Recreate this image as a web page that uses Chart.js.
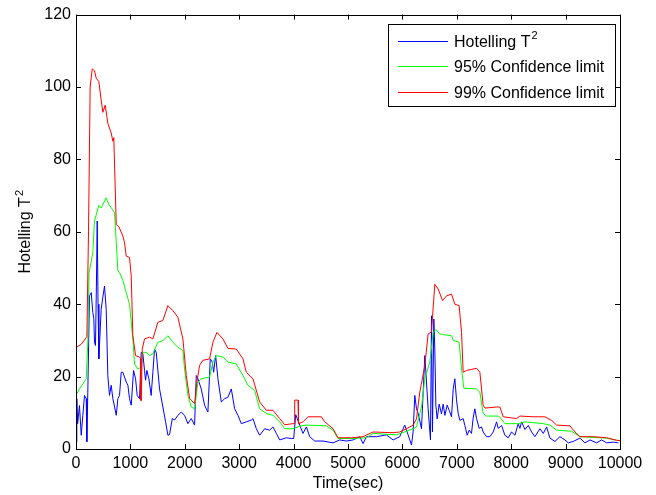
<!DOCTYPE html>
<html>
<head>
<meta charset="utf-8">
<script src="https://cdn.jsdelivr.net/npm/chart.js@4"></script>
<style>
  html, body { margin: 0; padding: 0; background: #fff; }
  #wrap { width: 656px; height: 495px; }
</style>
</head>
<body>
<div id="wrap"><canvas id="grafico"></canvas></div>
<script>
// Hotelling T2 (azul)
const tempoT2 = [0, 15, 30, 64, 96, 126, 156, 188, 199, 217, 248, 280, 309, 328, 340, 358, 375, 390, 405, 420, 463, 494, 524, 555, 585, 616, 647, 678, 740, 770, 800, 831, 862, 923, 954, 984, 1015, 1058, 1095, 1125, 1168, 1199, 1229, 1260, 1278, 1303, 1340, 1382, 1413, 1444, 1475, 1536, 1597, 1647, 1689, 1720, 1770, 1812, 1873, 1934, 1996, 2057, 2119, 2180, 2211, 2241, 2302, 2364, 2425, 2468, 2505, 2530, 2567, 2609, 2671, 2732, 2793, 2855, 2916, 2978, 3039, 3131, 3223, 3253, 3315, 3376, 3468, 3560, 3621, 3683, 3744, 3867, 3959, 4002, 4039, 4112, 4173, 4235, 4296, 4388, 4541, 4725, 4848, 4970, 5093, 5216, 5277, 5339, 5523, 5706, 5829, 5951, 6043, 6105, 6167, 6197, 6228, 6259, 6290, 6351, 6412, 6443, 6473, 6516, 6535, 6553, 6578, 6596, 6615, 6639, 6676, 6719, 6750, 6781, 6823, 6860, 6903, 6934, 6964, 6995, 7026, 7057, 7117, 7148, 7191, 7228, 7270, 7301, 7332, 7363, 7412, 7455, 7485, 7547, 7608, 7670, 7731, 7761, 7823, 7884, 7945, 8007, 8069, 8129, 8160, 8191, 8252, 8314, 8375, 8436, 8528, 8590, 8651, 8712, 8804, 8896, 8988, 9049, 9141, 9264, 9356, 9448, 9570, 9662, 9755, 9877, 9969];
const valoresT2 = [2, 13.9, 7, 12, 3.8, 9.3, 14.8, 13.9, 2, 15.7, 42.3, 43.2, 37.7, 36, 29.5, 28.6, 45, 63, 40, 24.9, 38.6, 42, 45, 38.6, 20.3, 14.8, 17.6, 13.9, 9.3, 13.9, 14.8, 21.2, 21.2, 18.5, 17.6, 13.9, 12.1, 21.7, 19.4, 14.8, 13.9, 26.7, 26.3, 21.7, 19, 21.7, 19.4, 14.8, 21.2, 27.6, 26.7, 16.6, 11.6, 7.5, 3.8, 4, 8.4, 8, 9.3, 10.2, 9.3, 7, 8.4, 6.6, 20.3, 19.4, 16.6, 12.1, 10.2, 24.9, 24, 21.2, 25.8, 19.4, 13, 13.9, 14.3, 16.6, 11.1, 9.3, 7, 7.5, 8, 8.4, 5.6, 3.8, 5.6, 5.2, 6.1, 4.3, 2.5, 3.1, 2.9, 2.9, 9.5, 6.6, 4.3, 6.1, 3.4, 2.2, 2.2, 1.7, 2.5, 2.2, 2.5, 3.4, 1.5, 3.4, 3.4, 3.9, 2.5, 3.4, 6.6, 3.9, 1.1, 4.7, 14.8, 11.1, 9.8, 5.6, 25.8, 18.5, 11.1, 2.5, 36.8, 4.7, 35.9, 27.6, 12.1, 8.3, 12.4, 9.7, 12.4, 9.3, 12.1, 10.7, 8.9, 16.6, 19.4, 13.6, 9.8, 7.9, 8.4, 6.5, 3.8, 5.2, 4.3, 8.6, 11.1, 8.4, 5.7, 6.1, 4.7, 3.4, 3.4, 4.7, 7.5, 5.7, 6.5, 3.8, 3.1, 4.7, 3.8, 7, 5.7, 7.5, 5.4, 6.5, 4.7, 3.4, 5.6, 4.3, 6.1, 3, 2.1, 3.4, 2.5, 1.7, 2.1, 3, 1.7, 2.5, 1.7, 2.5, 1.7, 1.9, 1.7];

// Limite de confiança 95% (verde)
const tempo95 = [0, 64, 188, 217, 240, 309, 340, 420, 463, 555, 604, 678, 708, 770, 800, 862, 923, 984, 1045, 1076, 1137, 1198, 1229, 1291, 1352, 1413, 1505, 1597, 1689, 1781, 1873, 1965, 1996, 2057, 2119, 2180, 2241, 2302, 2456, 2517, 2579, 2701, 2793, 2947, 3069, 3161, 3284, 3376, 3499, 3621, 3744, 3836, 3989, 4112, 4235, 4603, 4725, 4817, 5062, 5339, 5461, 5890, 6076, 6197, 6259, 6351, 6412, 6504, 6565, 6615, 6688, 6738, 6903, 6934, 7043, 7087, 7129, 7363, 7424, 7485, 7547, 7761, 7792, 7884, 8130, 8252, 8590, 8712, 8835, 9111, 9172, 9264, 9755, 9939, 10000];
const limite95 = [14.8, 16.6, 19.4, 29.5, 48.7, 54.2, 63, 67.3, 66.6, 69.4, 67.5, 66, 65.3, 49.2, 48.8, 46.5, 43.2, 40, 30.4, 23.5, 22.1, 22.6, 26.7, 26.7, 25.8, 26.3, 29.5, 29.9, 31.3, 29.5, 28.1, 27.2, 22.1, 14.8, 11.6, 11.1, 18.5, 19.4, 19.9, 24, 25.8, 25.4, 24, 23.5, 20.3, 17.6, 16.2, 11.1, 9.8, 9.3, 7.5, 5.6, 5.6, 6.3, 6.6, 6.4, 5.2, 2.9, 2.9, 3.1, 4.3, 3.9, 4.9, 5.6, 6.1, 11.6, 19.4, 24, 32.2, 33, 31.8, 31.6, 31.3, 30, 29.5, 22.1, 16.8, 16.6, 15.7, 9.8, 9.1, 9.1, 8.8, 7, 7, 7.5, 7, 6.6, 5.2, 4.9, 4.3, 3.4, 3, 2.4, 2.3];

// Limite de confiança 99% (vermelho)
const tempo99 = [0, 100, 200, 230, 260, 298, 340, 372, 420, 463, 494, 537, 585, 647, 678, 695, 740, 788, 862, 892, 923, 984, 1015, 1045, 1095, 1168, 1185, 1193, 1200, 1218, 1260, 1352, 1413, 1505, 1597, 1689, 1781, 1873, 1965, 2027, 2088, 2180, 2223, 2272, 2333, 2456, 2517, 2591, 2701, 2793, 2947, 3069, 3131, 3253, 3376, 3499, 3621, 3744, 3836, 3989, 4015, 4020, 4081, 4090, 4173, 4265, 4511, 4572, 4725, 4817, 5062, 5277, 5461, 5829, 5951, 6076, 6197, 6259, 6320, 6412, 6473, 6534, 6596, 6657, 6738, 6811, 6903, 6964, 7043, 7087, 7117, 7179, 7363, 7424, 7485, 7516, 7731, 7792, 7853, 8099, 8160, 8405, 8620, 8743, 8835, 9080, 9172, 9264, 9509, 9755, 9939, 10000];
const limite99 = [28, 29, 31, 60, 100, 105, 104.5, 102.4, 101.5, 96.4, 93, 95, 90, 87.3, 85, 86, 62, 61.4, 58.8, 57, 53.3, 52.9, 47.8, 31.3, 25.8, 25.4, 25, 13.4, 13.4, 27.6, 30.4, 30.9, 30.4, 35, 35.5, 39.6, 38.2, 36.4, 30.4, 20.3, 14, 12.5, 18.5, 23.1, 24.5, 24.9, 29.5, 32.2, 30.4, 27.8, 27.6, 24.9, 21.2, 19.4, 13, 10.7, 10.7, 8.4, 6.7, 7, 7, 13.5, 13.5, 7, 7.5, 8.9, 8.9, 7.5, 5.6, 3.1, 3.1, 3.4, 4.7, 4.5, 4.7, 5.6, 6.6, 8.3, 15.7, 23, 31.8, 32.3, 45.5, 44.2, 41, 42.3, 42.8, 40, 39.6, 32.2, 21.2, 21.7, 22.3, 21.2, 12.1, 11.3, 11.6, 11.6, 8.9, 8.4, 9.1, 8.9, 8.9, 7.9, 6.6, 6.4, 4.7, 3.4, 3.4, 3.1, 2.4, 2.3];

const ticksX = [0, 1000, 2000, 3000, 4000, 5000, 6000, 7000, 8000, 9000, 10000];
const ticksY = [0, 20, 40, 60, 80, 100, 120];

const fonte = 'Arial, "Liberation Sans", Helvetica, sans-serif';

function pares(xs, ys) {
    return xs.map(function(x, i) { return { x: x, y: ys[i] }; });
}

// Escreve um texto com "²" final como expoente maior (estilo MATLAB)
function textoComExpoente(ctx, texto, x, y, tam) {
    let base = texto;
    let sup = '';
    if (texto.endsWith('²')) {
        base = texto.slice(0, -1);
        sup = '2';
    }
    ctx.font = tam + 'px ' + fonte;
    const wBase = ctx.measureText(base).width;
    let wSup = 0;
    if (sup) {
        ctx.font = Math.round(tam * 0.7) + 'px ' + fonte;
        wSup = ctx.measureText(sup).width;
    }
    return {
        largura: wBase + wSup + 1,
        desenhar: function(x0) {
            ctx.font = tam + 'px ' + fonte;
            ctx.fillText(base, x0, y);
            if (sup) {
                ctx.font = Math.round(tam * 0.7) + 'px ' + fonte;
                ctx.fillText(sup, x0 + wBase + 1, y - tam * 0.4);
            }
        }
    };
}

/**
 * Desenha a caixa do eixo, os ticks para dentro e o título do eixo Y
 */
const caixaEixos = {
    id: 'caixaEixos',
    afterDatasetsDraw(chart) {
        const ctx = chart.ctx;
        const a = chart.chartArea;
        const sx = chart.scales.x;
        const sy = chart.scales.y;
        const len = 5;
        ctx.save();
        ctx.strokeStyle = '#000';
        ctx.lineWidth = 1;
        ctx.beginPath();
        ticksX.forEach(function(v) {
            const px = Math.round(sx.getPixelForValue(v)) + 0.5;
            ctx.moveTo(px, a.bottom); ctx.lineTo(px, a.bottom - len);
            ctx.moveTo(px, a.top); ctx.lineTo(px, a.top + len);
        });
        ticksY.forEach(function(v) {
            const py = Math.round(sy.getPixelForValue(v)) + 0.5;
            ctx.moveTo(a.left, py); ctx.lineTo(a.left + len, py);
            ctx.moveTo(a.right, py); ctx.lineTo(a.right - len, py);
        });
        ctx.stroke();
        ctx.strokeRect(Math.round(a.left) + 0.5, Math.round(a.top) + 0.5,
            Math.round(a.right - a.left), Math.round(a.bottom - a.top));

        // Título do eixo Y (rotacionado)
        ctx.translate(25, (a.top + a.bottom) / 2);
        ctx.rotate(-Math.PI / 2);
        ctx.fillStyle = '#000';
        ctx.textBaseline = 'middle';
        ctx.textAlign = 'left';
        const t = textoComExpoente(ctx, 'Hotelling T²', 0, 1, 16);
        t.desenhar(-t.largura / 2);
        ctx.restore();
    }
};

/**
 * Legenda dentro da área do gráfico, canto superior direito
 */
const legendaInterna = {
    id: 'legendaInterna',
    afterDraw(chart) {
        const ctx = chart.ctx;
        const a = chart.chartArea;
        const x0 = a.right - 232, y0 = a.top + 9, w = 227, h = 82;
        ctx.save();
        ctx.fillStyle = '#fff';
        ctx.fillRect(x0, y0, w, h);
        ctx.strokeStyle = '#000';
        ctx.lineWidth = 1;
        ctx.strokeRect(Math.round(x0) + 0.5, Math.round(y0) + 0.5, w, h);
        ctx.textBaseline = 'middle';
        ctx.textAlign = 'left';
        chart.data.datasets.forEach(function(ds, i) {
            const y = Math.round(y0 + 17 + i * 25.5) + 0.5;
            ctx.strokeStyle = ds.borderColor;
            ctx.beginPath();
            ctx.moveTo(x0 + 10, y);
            ctx.lineTo(x0 + 60, y);
            ctx.stroke();
            ctx.fillStyle = '#000';
            textoComExpoente(ctx, ds.label, 0, y + 1, 16).desenhar(x0 + 66);
        });
        ctx.restore();
    }
};

document.addEventListener('DOMContentLoaded', function() {
    const ctx = document.getElementById('grafico');

    new Chart(ctx, {
        type: 'line',
        data: {
            datasets: [
                {
                    label: 'Hotelling T²',
                    data: pares(tempoT2, valoresT2),
                    borderColor: '#0000ff',
                    borderWidth: 1,
                    pointRadius: 0,
                    tension: 0,
                    order: 2
                },
                {
                    label: '95% Confidence limit',
                    data: pares(tempo95, limite95),
                    borderColor: '#00ff00',
                    borderWidth: 1,
                    pointRadius: 0,
                    tension: 0,
                    order: 1
                },
                {
                    label: '99% Confidence limit',
                    data: pares(tempo99, limite99),
                    borderColor: '#ff0000',
                    borderWidth: 1,
                    pointRadius: 0,
                    tension: 0,
                    order: 0
                }
            ]
        },
        options: {
            responsive: true,
            maintainAspectRatio: false,
            animation: false,
            layout: {
                padding: { left: 0, right: 36, top: 11, bottom: 0 }
            },
            plugins: {
                legend: { display: false },
                tooltip: { enabled: false }
            },
            scales: {
                x: {
                    type: 'linear',
                    min: 0,
                    max: 10000,
                    afterBuildTicks: function(scale) {
                        scale.ticks = ticksX.map(function(v) { return { value: v }; });
                    },
                    afterFit: function(scale) { scale.height = 46; },
                    grid: { display: false, drawTicks: false },
                    border: { display: false },
                    ticks: {
                        color: '#000',
                        padding: 5,
                        maxRotation: 0,
                        autoSkip: false,
                        font: { family: fonte, size: 16 },
                        callback: function(v) { return String(v); }
                    },
                    title: {
                        display: true,
                        text: 'Time(sec)',
                        color: '#000',
                        font: { family: fonte, size: 16 },
                        padding: 2
                    }
                },
                y: {
                    min: 0,
                    max: 120,
                    afterBuildTicks: function(scale) {
                        scale.ticks = ticksY.map(function(v) { return { value: v }; });
                    },
                    afterFit: function(scale) { scale.width = 76; },
                    grid: { display: false, drawTicks: false },
                    border: { display: false },
                    ticks: {
                        color: '#000',
                        padding: 5,
                        autoSkip: false,
                        font: { family: fonte, size: 16 }
                    }
                }
            }
        },
        plugins: [caixaEixos, legendaInterna]
    });
});
</script>
</body>
</html>
